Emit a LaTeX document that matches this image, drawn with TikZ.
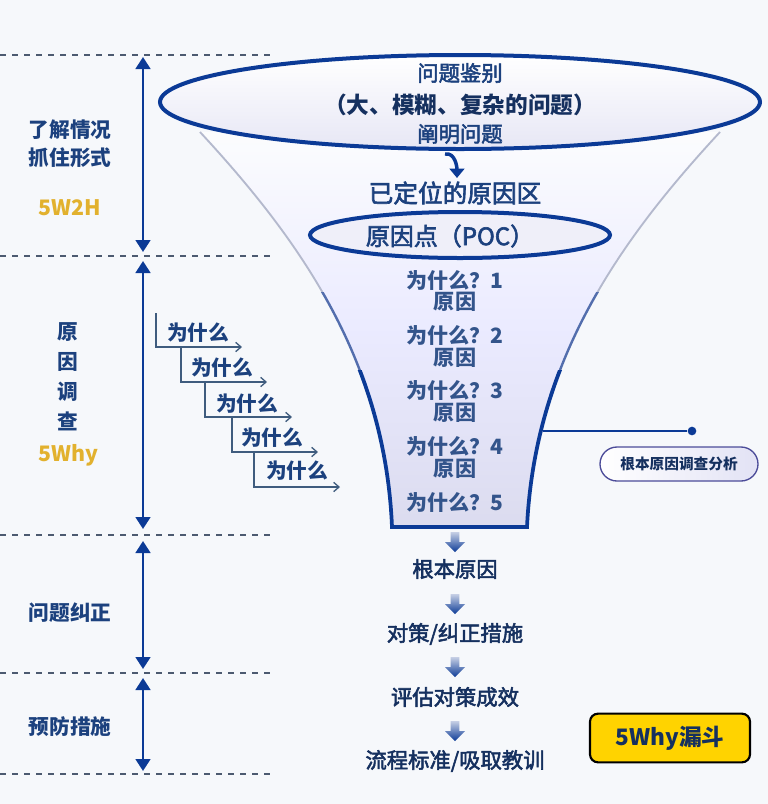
\documentclass[tikz,border=0pt]{standalone}
\usepackage{fontspec}
\setmainfont{Noto Sans CJK SC}
\newfontfamily\medfont{Noto Sans CJK SC}[FakeBold=2.5]
\usetikzlibrary{arrows.meta,shapes.arrows,shapes.geometric}
\definecolor{bg}{HTML}{F6F8FB}
\definecolor{navy}{HTML}{0B3A96}
\definecolor{txt}{HTML}{1C417E}
\definecolor{dtxt}{HTML}{15305F}
\definecolor{gold}{HTML}{E2B12E}
\definecolor{dashc}{HTML}{4C5A70}
\definecolor{yel}{HTML}{FFD300}
\definecolor{stepc}{HTML}{3F5C7E}
\definecolor{midblue}{HTML}{3B5BA5}
\definecolor{edgegray}{HTML}{B4B9CD}
\begin{document}
\begin{tikzpicture}[x=0.75pt,y=-0.75pt,
  sidelbl/.style={font=\fontsize{15.5pt}{21pt}\selectfont\bfseries, text=txt, inner sep=0pt, align=center},
  goldlbl/.style={font=\fontsize{16pt}{18pt}\selectfont\bfseries, text=gold, inner sep=0pt},
  sepline/.style={dashc, line width=0.8pt, dash pattern=on 4.5pt off 4.5pt},
  span/.style={navy, line width=2pt, {Triangle[length=9pt,width=11pt]}-{Triangle[length=9pt,width=11pt]}},
  ftxt/.style={font=\fontsize{16pt}{18pt}\selectfont\medfont, text=txt, inner sep=0pt},
  whytxt/.style={font=\fontsize{15.8pt}{18pt}\selectfont\bfseries, text=txt!90!white, inner sep=0pt},
  steptxt/.style={font=\fontsize{15.5pt}{18pt}\selectfont\bfseries, text=txt, inner sep=0pt},
  stepline/.style={stepc, line width=1pt, -{Straight Barb[length=4pt,width=7pt]}},
  outtxt/.style={font=\fontsize{16pt}{18pt}\selectfont\medfont, text=dtxt, inner sep=0pt},
  downarr/.style={single arrow, shape border rotate=270, minimum height=15pt, minimum width=15pt,
     single arrow head extend=3pt, inner sep=2.2pt, top color=white!70!midblue, bottom color=navy, draw=none},
]
\fill[bg] (0,0) rectangle (768,804);
\useasboundingbox (0,0) rectangle (768,804);

% dashed separators
\foreach \yy in {55,256,535,673,774} \draw[sepline] (0,\yy) -- (273,\yy);

% span arrows
\coordinate (s1a) at (143,57);  \coordinate (s1b) at (143,252);
\coordinate (s2a) at (143,261); \coordinate (s2b) at (143,529);
\coordinate (s3a) at (143,541); \coordinate (s3b) at (143,669);
\coordinate (s4a) at (143,678); \coordinate (s4b) at (143,771);
\draw[span] (s1a) -- (s1b);
\draw[span] (s2a) -- (s2b);
\draw[span] (s3a) -- (s3b);
\draw[span] (s4a) -- (s4b);

% left labels
\node[sidelbl] (l1) at (70,144) {了解情况\\抓住形式};
\node[goldlbl] (g1) at (70,208) {5W2H};
\node[sidelbl, font=\fontsize{15.5pt}{22.5pt}\selectfont\bfseries] (l2) at (68,377) {原\\因\\调\\查};
\node[goldlbl] (g2) at (68,455) {5Why};
\node[sidelbl] (l3) at (70,613) {问题纠正};
\node[sidelbl] (l4) at (70,727) {预防措施};

% funnel body
\fill[top color=white!60!bg, bottom color=black!4!blue!9!white!88!gray, middle color=white!92!blue]
  (200,132) .. controls (300,240) and (385,360) .. (392,527) -- (527,527)
  .. controls (535,360) and (620,240) .. (720,132) -- cycle;
\begin{scope}
  \clip (0,0) rectangle (768,292);
  \draw[edgegray, line width=1.4pt] (200,132) .. controls (300,240) and (385,360) .. (392,527);
  \draw[edgegray, line width=1.4pt] (720,132) .. controls (620,240) and (535,360) .. (527,527);
\end{scope}
\begin{scope}
  \clip (0,292) rectangle (768,370);
  \draw[midblue!80!edgegray, line width=1.8pt] (200,132) .. controls (300,240) and (385,360) .. (392,527);
  \draw[midblue!80!edgegray, line width=1.8pt] (720,132) .. controls (620,240) and (535,360) .. (527,527);
\end{scope}
\begin{scope}
  \clip (0,370) rectangle (768,600);
  \draw[navy, line width=2.8pt, line join=miter] (200,132) .. controls (300,240) and (385,360) .. (392,527)
    -- (527,527) .. controls (535,360) and (620,240) .. (720,132);
\end{scope}

% top ellipse
\draw[navy, line width=3pt, top color=white, bottom color=blue!6!white!92!gray] (460,102) ellipse [x radius=300, y radius=47];
\node[ftxt] (t1) at (460,73) {问题鉴别};
\node[ftxt, font=\fontsize{17pt}{18pt}\selectfont\bfseries, text=dtxt] (t2) at (460,105) {（大、模糊、复杂的问题）};
\node[ftxt] (t3) at (460,134) {阐明问题};

% curved arrow
\coordinate (ca) at (445,154);
\coordinate (cb) at (457,178);
\draw[navy, line width=2.6pt, -{Triangle[length=7pt,width=11pt]}] (ca) to[out=10,in=90] (cb);

\node[ftxt, font=\fontsize{18.5pt}{20pt}\selectfont\medfont] (t4) at (455,193) {已定位的原因区};

% POC ellipse
\draw[navy, line width=3pt, fill=blue!4!white!95!gray] (460,235) ellipse [x radius=150, y radius=23];
\node[ftxt, font=\fontsize{18pt}{20pt}\selectfont\medfont] (poc) at (450,236) {原因点（POC）};

% why texts
\node[whytxt] (w1) at (455,281) {为什么？1};
\node[whytxt] (r1) at (455,302) {原因};
\node[whytxt] (w2) at (455,336) {为什么？2};
\node[whytxt] (r2) at (455,358) {原因};
\node[whytxt] (w3) at (455,391) {为什么？3};
\node[whytxt] (r3) at (455,413) {原因};
\node[whytxt] (w4) at (455,447) {为什么？4};
\node[whytxt] (r4) at (455,469) {原因};
\node[whytxt] (w5) at (455,503) {为什么？5};

% connector to dot
\coordinate (fe) at (543,431);
\node[circle, fill=navy, inner sep=0pt, minimum size=6.5pt] (dot) at (692,431) {};
\draw[navy, line width=1.2pt] (fe) -- (dot);

% pill label
\node[rounded corners=12.75pt, minimum width=118.5pt, minimum height=25.5pt, inner sep=0pt,
  left color=white, right color=blue!8!white!92!gray, draw=black!25!blue!40!gray, line width=1pt,
  font=\fontsize{11pt}{13pt}\selectfont\bfseries, text=dtxt] (pill) at (679,464) {根本原因调查分析};

% staircase
\foreach \i/\xa/\ya/\yb/\xe/\tx/\ty in {1/156/313/347/242/198/333, 2/181/347/382/267/222/368, 3/205/382/417/292/247/404, 4/232/417/452/318/272/438, 5/254/452/487/340/297/471}{
  \coordinate (st\i) at (\xa,\ya);
  \coordinate (sc\i) at (\xa,\yb);
  \coordinate (se\i) at (\xe,\yb);
  \node[steptxt] (sw\i) at (\tx,\ty) {为什么};
  \draw[stepline] (st\i) -- (sc\i) -- (se\i);
}

% below funnel
\node[outtxt] (o1) at (455,569) {根本原因};
\node[outtxt] (o2) at (455,634) {对策/纠正措施};
\node[outtxt] (o3) at (455,697) {评估对策成效};
\node[outtxt] (o4) at (455,761) {流程标准/吸取教训};
\node[downarr] (a0) at (455,540) {};
\node[downarr] (a1) at (455,602) {};
\node[downarr] (a2) at (455,665) {};
\node[downarr] (a3) at (455,729) {};

% yellow box
\node[fill=yel, draw=black, line width=1.6pt, rounded corners=6pt, minimum width=120pt, minimum height=36.5pt,
  font=\fontsize{17pt}{19pt}\selectfont\bfseries, text=dtxt, inner sep=0pt] (yb) at (670,738) {5Why漏斗};
\end{tikzpicture}
\end{document}
